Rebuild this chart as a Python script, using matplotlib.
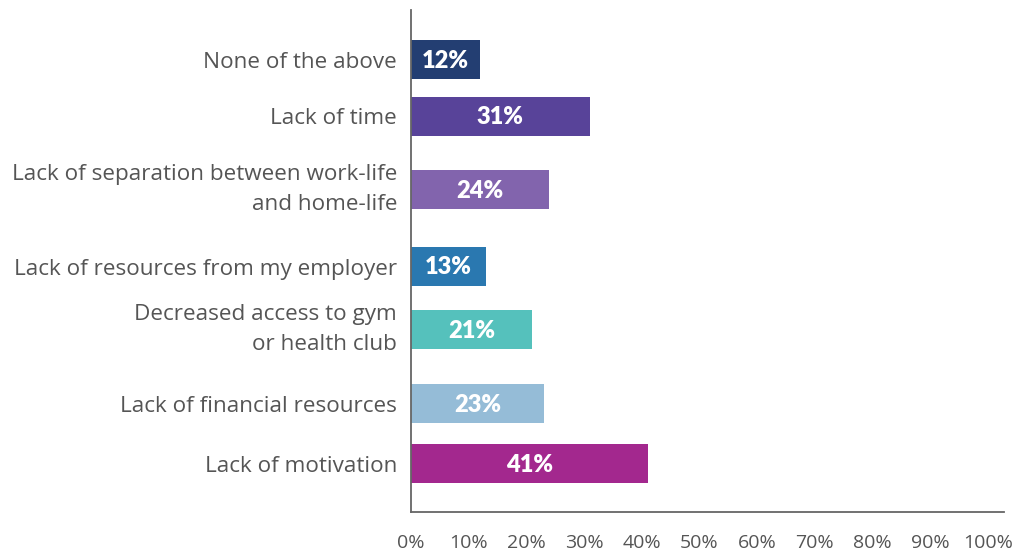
import matplotlib.pyplot as plt

plt.rcParams['font.family'] = ['Open Sans', 'DejaVu Sans']

# survey answers, top to bottom
categories = [
    'None of the above',
    'Lack of time',
    'Lack of separation between work-life\nand home-life',
    'Lack of resources from my employer',
    'Decreased access to gym\nor health club',
    'Lack of financial resources',
    'Lack of motivation',
]
shares = [12, 31, 24, 13, 21, 23, 41]
bar_colors = ['#233e72', '#584399', '#8264ad', '#2a78b0',
              '#55c1bc', '#95bcd7', '#a3288e']
tick_values = list(range(0, 101, 10))
tick_labels = [f'{v}%' for v in tick_values]

# row centres measured downward from the first row (uneven spacing)
row_y = [0.0, 5.7, 13.0, 20.7, 27.0, 34.4, 40.4]
bar_h = 3.9

fig = plt.figure(figsize=(10.13, 5.55), dpi=100)
ax = fig.add_axes([411 / 1013, 1 - 512 / 555, 593 / 1013, 502 / 555])

ax.barh(row_y, shares, height=bar_h, color=bar_colors, zorder=2)
for y, v in zip(row_y, shares):
    ax.text(v / 2, y + 0.1, f'{v}%', ha='center', va='center', color='white',
            fontsize=17, fontweight='heavy', family=['Lato', 'DejaVu Sans'],
            zorder=3)

ax.set_xlim(0, 102.8)
ax.set_ylim(45.25, -4.95)

ax.set_yticks(row_y)
ax.set_yticklabels(categories, fontsize=16.2, color='#555555', linespacing=1.6)
# two-line labels sit centred on their bar
for lab in ax.get_yticklabels():
    if '\n' in lab.get_text():
        lab.set_verticalalignment('center')
ax.set_xticks(tick_values)
ax.set_xticklabels(tick_labels, fontsize=14, color='#555555')
ax.tick_params(axis='y', length=0, pad=10)
ax.tick_params(axis='x', length=0, pad=16)

for side in ['top', 'right']:
    ax.spines[side].set_visible(False)
for side in ['left', 'bottom']:
    ax.spines[side].set_color('#666666')
    ax.spines[side].set_linewidth(1.3)

fig.savefig('out.png', dpi=100)
